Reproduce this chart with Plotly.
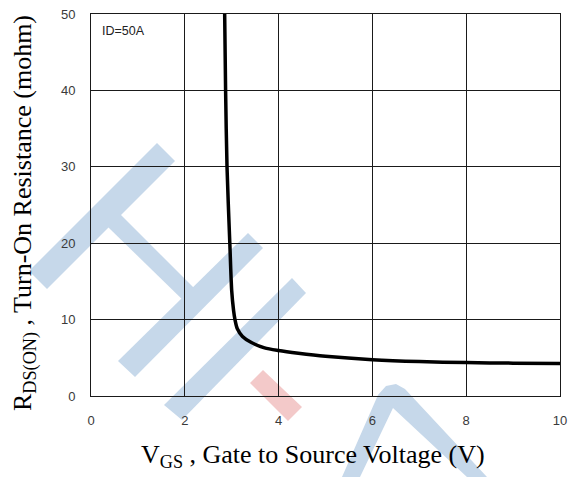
import plotly.graph_objects as go

# Gate voltage (V) and on-resistance (mohm) along the transfer curve, ID = 50 A
vgs = [2.85, 2.87, 2.90, 2.96, 3.00, 3.04, 3.07, 3.12, 3.23, 3.42, 3.70, 4.00, 4.42, 5.00, 6.00, 7.00, 8.00, 9.00, 10.00]
rds_on = [50.0, 40.0, 30.0, 20.0, 13.8, 11.2, 10.0, 8.8, 7.8, 7.0, 6.3, 5.95, 5.6, 5.2, 4.75, 4.5, 4.37, 4.3, 4.24]

x_ticks = [0, 2, 4, 6, 8, 10]
y_ticks = [0, 10, 20, 30, 40, 50]

W, H = 570, 477
L, R, T, B = 91, 10, 14, 81


def px(X, Y):
    """Convert figure pixel position to paper coordinates."""
    return (X - L) / (W - L - R), (H - B - Y) / (H - T - B)


def poly(points):
    pts = [px(*p) for p in points]
    return "M " + " L ".join(f"{a:.4f},{b:.4f}" for a, b in pts) + " Z"


blue = "#c6d8ea"
red = "#f3c9c9"

logo = [
    (poly([(157, 143), (175, 161), (47, 289), (29, 271)]), blue),
    (poly([(120, 214), (200, 294), (189, 306), (108, 227)]), blue),
    (poly([(248, 233), (263, 248), (135, 377), (118, 361)]), blue),
    (poly([(292, 278), (306, 293), (182, 420), (164, 405)]), blue),
    (poly([(263, 370), (302, 407), (288, 421), (250, 383)]), red),
    (poly([(342, 477), (378, 395), (386, 386), (396, 384), (405, 389), (487, 477),
           (467, 477), (393, 408), (360, 477)]), blue),
]

shapes = [
    dict(type="path", path=d, xref="paper", yref="paper", fillcolor=c,
         line=dict(width=0), layer="below")
    for d, c in logo
]

fig = go.Figure()
fig.add_trace(go.Scatter(
    x=vgs, y=rds_on, mode="lines",
    line=dict(color="black", width=3.5, shape="spline", smoothing=0.8),
    hoverinfo="skip", showlegend=False,
))

tick_font = dict(family="Liberation Sans, Arial, sans-serif", size=13, color="#3a3a3a")
fig.update_xaxes(
    range=[0, 10], tickvals=x_ticks, ticktext=[str(v) for v in x_ticks],
    showgrid=True, gridcolor="#1a1a1a", gridwidth=1,
    showline=True, linecolor="#1a1a1a", linewidth=1, mirror=True,
    zeroline=False, ticks="", tickfont=tick_font, ticklabelstandoff=12,
    automargin=False,
)
fig.update_yaxes(
    range=[0, 50], tickvals=y_ticks, ticktext=[str(v) for v in y_ticks],
    showgrid=True, gridcolor="#1a1a1a", gridwidth=1,
    showline=True, linecolor="#1a1a1a", linewidth=1, mirror=True,
    zeroline=False, ticks="", tickfont=tick_font, ticklabelstandoff=12,
    automargin=False,
)

serif = dict(family="Liberation Serif, Times New Roman, serif", size=26, color="black")
fig.update_layout(
    width=W, height=H,
    margin=dict(l=L, r=R, t=T, b=B, autoexpand=False),
    paper_bgcolor="white", plot_bgcolor="rgba(0,0,0,0)",
    shapes=shapes,
    annotations=[
        dict(text="ID=50A", x=px(100, 0)[0], y=px(0, 31)[1],
             xref="paper", yref="paper", xanchor="left", yanchor="middle",
             showarrow=False, font=dict(family="Liberation Sans, Arial, sans-serif", size=12.5, color="#222222")),
        dict(text="V<sub>GS</sub> , Gate to Source Voltage (V)",
             x=px(313, 0)[0], y=px(0, 456)[1], xref="paper", yref="paper",
             xanchor="center", yanchor="middle", showarrow=False, font=serif),
        dict(text="R<sub>DS(ON)</sub> , Turn-On Resistance (mohm)",
             x=px(24, 0)[0], y=px(0, 213)[1], xref="paper", yref="paper",
             xanchor="center", yanchor="middle", textangle=-90, showarrow=False, font=serif),
    ],
)

fig.write_html("out.html")
